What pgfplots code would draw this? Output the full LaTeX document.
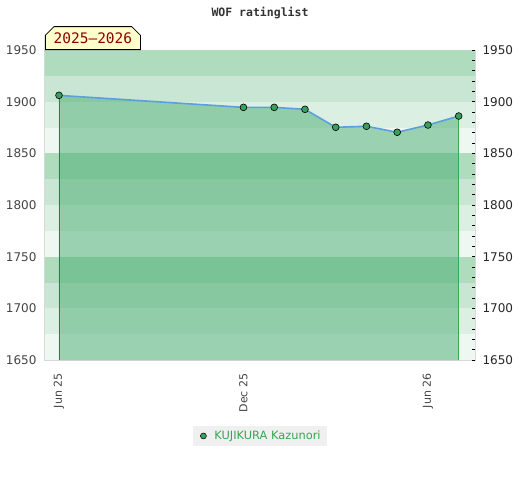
\documentclass[border=0pt]{standalone}
\usepackage{fontspec}
\setmainfont{DejaVu Sans}
\newfontfamily\monofont{DejaVu Sans Mono}
\usepackage{pgfplots}
\usepackage{pgfplotstable}
\pgfplotsset{compat=1.18}
\usetikzlibrary{shapes.misc}
\definecolor{bandA}{HTML}{AEDCBD}
\definecolor{bandB}{HTML}{C8E6D3}
\definecolor{bandC}{HTML}{DCEFE3}
\definecolor{bandD}{HTML}{EEF7F1}
\definecolor{areaC}{HTML}{48AC70}
\definecolor{lineblue}{HTML}{5BA0DC}
\definecolor{markgreen}{HTML}{3A9E5C}
\definecolor{leftgreen}{HTML}{2E7D4A}
\definecolor{rightgreen}{HTML}{33AA55}
\definecolor{frame}{HTML}{D8D8D8}
\definecolor{ticktext}{HTML}{444444}
\definecolor{legtext}{HTML}{33A653}
\definecolor{boxred}{HTML}{8B0000}
\definecolor{boxfill}{HTML}{FFFFCC}
\definecolor{legfill}{HTML}{F0F0F0}
\pgfplotstableread{
m r
0 1906.1
6 1894.5
7 1894.5
8 1892.6
9 1875.2
10 1876.2
11 1870.4
12 1877.4
13 1886.1
}\ratings
\begin{document}
\begin{tikzpicture}
\path[use as bounding box] (-45pt,-120pt) rectangle (475pt,360pt);
\begin{axis}[
  at={(0,0)}, anchor=south west,
  scale only axis, width=430pt, height=310pt,
  xmin=-0.455, xmax=13.53, ymin=1650, ymax=1950,
  clip mode=individual,
  axis line style={draw=frame, line width=1pt},
  ytick={1650,1700,...,1950},
  major tick length=0pt,
  yticklabel style={font=\fontsize{12}{14}\selectfont, text=ticktext, xshift=-5pt},
  /pgf/number format/assume math mode=true,
  /pgf/number format/1000 sep={},
  xtick={0,6,12},
  xticklabels={Jun 25, Dec 25, Jun 26},
  xticklabel style={font=\fontsize{11}{13}\selectfont, text=ticktext, rotate=90, anchor=east, xshift=-10pt},
  legend style={at={(0.5,-0.245)}, anchor=center, fill=legfill, draw=none,
    font=\fontsize{11.4}{13}\selectfont, text=legtext, inner xsep=4pt, inner ysep=2.5pt},
  legend image code/.code={\path[draw=none, fill=none] (0pt,-3pt) rectangle (13pt,3pt); \fill[markgreen, draw=black, line width=0.5pt] (6pt,0pt) circle (3pt);},
]
\addplot[draw=none, fill=bandA, forget plot] coordinates {(-1,1925) (14,1925) (14,1950) (-1,1950)} -- cycle;
\addplot[draw=none, fill=bandB, forget plot] coordinates {(-1,1900) (14,1900) (14,1925) (-1,1925)} -- cycle;
\addplot[draw=none, fill=bandC, forget plot] coordinates {(-1,1875) (14,1875) (14,1900) (-1,1900)} -- cycle;
\addplot[draw=none, fill=bandD, forget plot] coordinates {(-1,1850) (14,1850) (14,1875) (-1,1875)} -- cycle;
\addplot[draw=none, fill=bandA, forget plot] coordinates {(-1,1825) (14,1825) (14,1850) (-1,1850)} -- cycle;
\addplot[draw=none, fill=bandB, forget plot] coordinates {(-1,1800) (14,1800) (14,1825) (-1,1825)} -- cycle;
\addplot[draw=none, fill=bandC, forget plot] coordinates {(-1,1775) (14,1775) (14,1800) (-1,1800)} -- cycle;
\addplot[draw=none, fill=bandD, forget plot] coordinates {(-1,1750) (14,1750) (14,1775) (-1,1775)} -- cycle;
\addplot[draw=none, fill=bandA, forget plot] coordinates {(-1,1725) (14,1725) (14,1750) (-1,1750)} -- cycle;
\addplot[draw=none, fill=bandB, forget plot] coordinates {(-1,1700) (14,1700) (14,1725) (-1,1725)} -- cycle;
\addplot[draw=none, fill=bandC, forget plot] coordinates {(-1,1675) (14,1675) (14,1700) (-1,1700)} -- cycle;
\addplot[draw=none, fill=bandD, forget plot] coordinates {(-1,1650) (14,1650) (14,1675) (-1,1675)} -- cycle;
\addplot[draw=none, fill=areaC, fill opacity=0.5, forget plot] table[x=m, y=r] {\ratings} \closedcycle;
\addplot[leftgreen, line width=0.9pt, forget plot] coordinates {(0,1650) (0,1906.1)};
\addplot[rightgreen, line width=1pt, forget plot] coordinates {(13,1650) (13,1886.1)};
\addplot[lineblue, line width=1.6pt, mark=*, mark size=3.4pt,
  mark options={fill=markgreen, draw=black, line width=0.6pt}] table[x=m, y=r] {\ratings};
\addlegendentry{\hspace{2pt}KUJIKURA Kazunori\hspace{2pt}}
\node[anchor=center, font=\monofont\bfseries\fontsize{11.5}{13}\selectfont, text=black!80] at (rel axis cs:0.5,1.119) {WOF ratinglist};
\node[chamfered rectangle, chamfered rectangle corners={north west, north east}, chamfered rectangle xsep=5pt,
  fill=boxfill, draw=black, line width=0.8pt, anchor=south west, minimum width=95pt, minimum height=23pt, inner sep=1pt,
  font=\monofont\fontsize{14.5}{17}\selectfont, text=boxred] at (rel axis cs:0,1) {2025–2026};
\end{axis}
\begin{axis}[
  at={(0,0)}, anchor=south west,
  scale only axis, width=430pt, height=310pt,
  xmin=-0.455, xmax=13.53, ymin=1650, ymax=1950,
  axis x line=none, axis y line*=right,
  axis line style={draw=none},
  ytick={1650,1700,...,1950},
  minor y tick num=4,
  tick align=inside,
  major tick length=3pt, minor tick length=3pt,
  tick style={black, line width=0.8pt},
  yticklabel style={font=\fontsize{12}{14}\selectfont, text=black!85, xshift=4pt},
  /pgf/number format/assume math mode=true,
  /pgf/number format/1000 sep={},
]
\addplot[draw=none, forget plot] coordinates {(0,1700)};
\end{axis}
\end{tikzpicture}
\end{document}
